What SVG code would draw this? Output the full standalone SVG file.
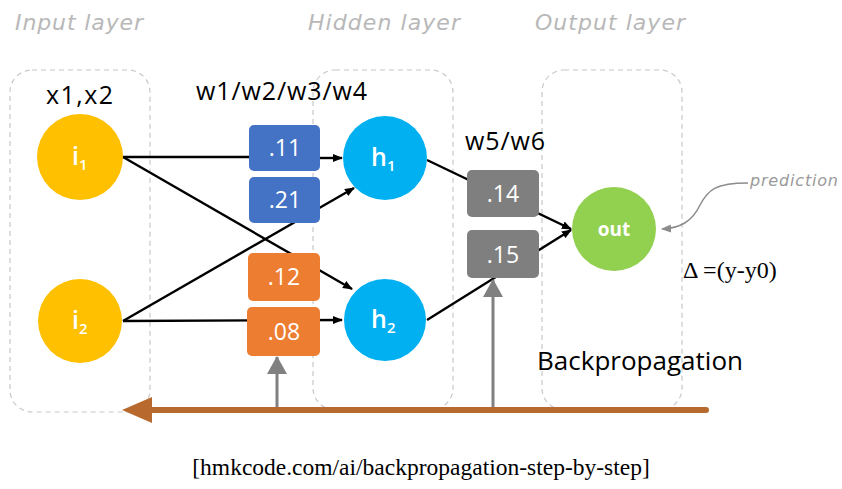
<svg xmlns="http://www.w3.org/2000/svg" width="842" height="489" viewBox="0 0 842 489">
<defs>
<style>
.layer{fill:none;stroke:#c8c8c8;stroke-width:1.2;stroke-dasharray:5,4}
.ltitle{font-family:"DejaVu Sans",sans-serif;font-style:italic;font-size:22px;fill:#b8b8b8;font-weight:200}
.lbl{font-family:"Open Sans","DejaVu Sans",sans-serif;font-size:25px;fill:#000}
.nlbl{font-family:"Open Sans","DejaVu Sans",sans-serif;font-size:25px;fill:#fff;font-weight:600}
.sub{font-size:15px}
.wt{font-family:"Open Sans","DejaVu Sans",sans-serif;font-size:23px;fill:#fff;text-anchor:middle}
.edge{stroke:#000;stroke-width:2.4;fill:none}
.up{stroke:#808080;stroke-width:3;fill:none}
.serif{font-family:"Liberation Serif",serif;fill:#000}
</style>
<marker id="ah" markerWidth="10" markerHeight="8" refX="9" refY="4" orient="auto" markerUnits="userSpaceOnUse"><path d="M0,0 L10,4 L0,8 Z" fill="#000"/></marker>
<marker id="gh" markerWidth="18" markerHeight="20" refX="17" refY="10" orient="auto" markerUnits="userSpaceOnUse"><path d="M0,0 L18,10 L0,20 Z" fill="#808080"/></marker>
<marker id="ph" markerWidth="10" markerHeight="10" refX="9" refY="5" orient="auto" markerUnits="userSpaceOnUse"><path d="M0,1 L10,5 L0,9 Z" fill="#8c8c8c"/></marker>
</defs>
<rect width="842" height="489" fill="#fff"/>

<g id="layers">
<rect class="layer" x="10" y="70" width="140" height="342" rx="22"/>
<rect class="layer" x="313" y="70" width="140" height="340" rx="22"/>
<rect class="layer" x="542" y="70" width="140" height="340" rx="22"/>
<text class="ltitle" x="15" y="30" textLength="128">Input layer</text>
<text class="ltitle" x="308" y="30" textLength="152">Hidden layer</text>
<text class="ltitle" x="535" y="30" textLength="150">Output layer</text>
</g>

<g id="labels">
<text class="lbl" x="46" y="104" textLength="67">x1,x2</text>
<text class="lbl" x="196" y="100" textLength="171">w1/w2/w3/w4</text>
<text class="lbl" x="465" y="150" textLength="80">w5/w6</text>
<text class="lbl" x="537" y="370" style="font-size:26px" textLength="206">Backpropagation</text>
<text class="serif" x="683" y="278" font-size="24">Δ =(y-y0)</text>
<text x="750" y="186" font-family="DejaVu Sans,sans-serif" font-style="italic" font-size="16" fill="#9a9a9a" textLength="88">prediction</text>
<text class="serif" x="421" y="475" font-size="23.5" text-anchor="middle">[hmkcode.com/ai/backpropagation-step-by-step]</text>
</g>

<g id="connectors">
<line class="edge" x1="123" y1="157" x2="250" y2="157"/>
<line class="edge" x1="320" y1="158" x2="342" y2="158" marker-end="url(#ah)"/>
<line class="edge" x1="123" y1="157" x2="352" y2="289" marker-end="url(#ah)"/>
<line class="edge" x1="123" y1="321" x2="354" y2="188" marker-end="url(#ah)"/>
<line class="edge" x1="123" y1="321" x2="342" y2="320" marker-end="url(#ah)"/>
<line class="edge" x1="427" y1="160" x2="571" y2="229" marker-end="url(#ah)"/>
<line class="edge" x1="427" y1="320" x2="571" y2="230" marker-end="url(#ah)"/>
<line class="up" x1="277" y1="412" x2="277" y2="357" marker-end="url(#gh)"/>
<line class="up" x1="493" y1="410" x2="493" y2="280" marker-end="url(#gh)"/>
<line x1="706" y1="410" x2="150" y2="410" stroke="#B86A2E" stroke-width="6" stroke-linecap="round"/>
<path d="M122,410 L152,397 L152,423 Z" fill="#B86A2E"/>
<path d="M748,183 C715,183 708,190 700,205 C692,222 680,228 662,229" fill="none" stroke="#8c8c8c" stroke-width="1.5" marker-end="url(#ph)"/>
</g>

<g id="w11"><rect x="249" y="125" width="71" height="46" rx="5" fill="#4472C4"/><text class="wt" x="285" y="156">.11</text></g>
<g id="w21"><rect x="249" y="177" width="71" height="46" rx="5" fill="#4472C4"/><text class="wt" x="285" y="208">.21</text></g>
<g id="w12"><rect x="248" y="253" width="72" height="48" rx="5" fill="#ED7D31"/><text class="wt" x="284" y="285">.12</text></g>
<g id="w08"><rect x="247" y="307" width="73" height="49" rx="5" fill="#ED7D31"/><text class="wt" x="284" y="340">.08</text></g>
<g id="w14"><rect x="467" y="170" width="72" height="47" rx="5" fill="#7F7F7F"/><text class="wt" x="503" y="202">.14</text></g>
<g id="w15"><rect x="467" y="230" width="72" height="48" rx="5" fill="#7F7F7F"/><text class="wt" x="503" y="263">.15</text></g>

<g id="i1"><circle cx="80" cy="157" r="43" fill="#FFC000"/><text class="nlbl" x="72" y="165">i<tspan class="sub" dy="5">1</tspan></text></g>
<g id="i2"><circle cx="80" cy="321" r="42" fill="#FFC000"/><text class="nlbl" x="72" y="329">i<tspan class="sub" dy="5">2</tspan></text></g>
<g id="h1"><circle cx="385" cy="158" r="42" fill="#00B0F0"/><text class="nlbl" x="371" y="166">h<tspan class="sub" dy="5">1</tspan></text></g>
<g id="h2"><circle cx="385" cy="320" r="41" fill="#00B0F0"/><text class="nlbl" x="371" y="328">h<tspan class="sub" dy="5">2</tspan></text></g>
<g id="out"><circle cx="614" cy="229" r="42" fill="#92D050"/><text x="614" y="236" font-family="Open Sans,DejaVu Sans,sans-serif" font-weight="bold" font-size="19" fill="#fff" text-anchor="middle">out</text></g>
</svg>
